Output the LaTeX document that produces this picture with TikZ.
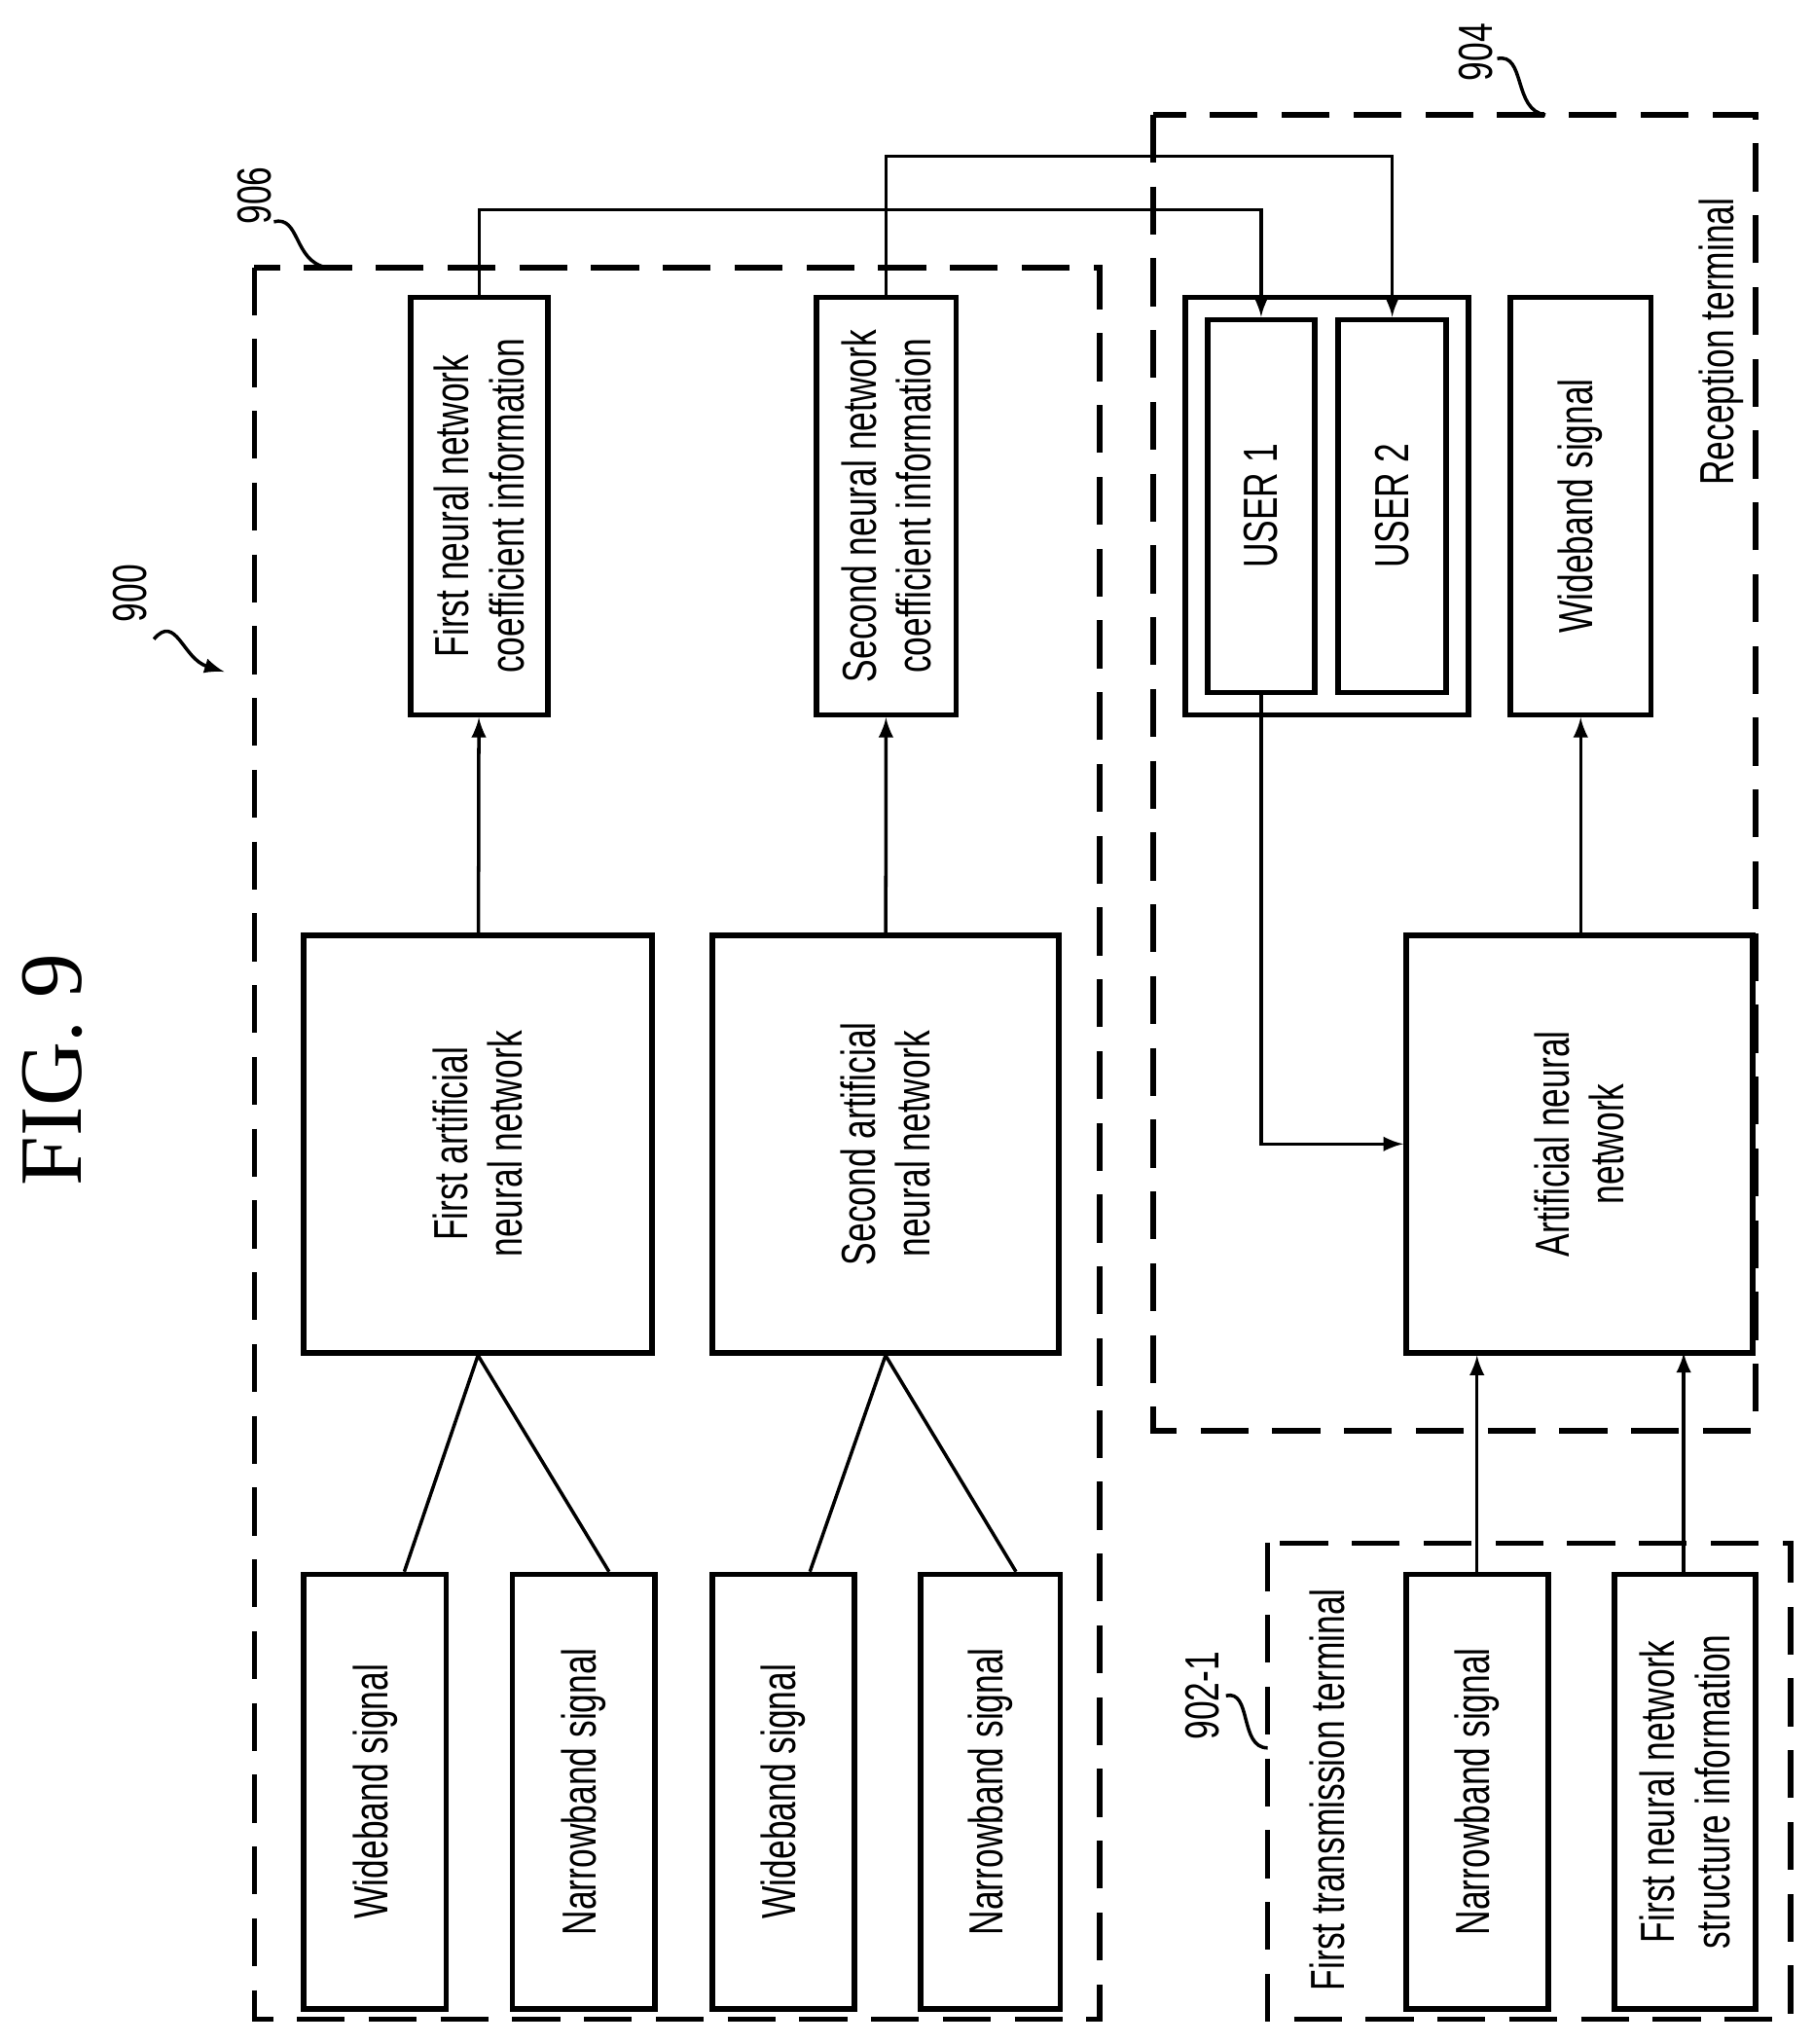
\documentclass[tikz,border=0pt]{standalone}
\usepackage{fontspec}
\setmainfont[FakeStretch=0.72]{Liberation Sans}
\newfontfamily\figfont{Liberation Serif}
\usetikzlibrary{arrows,positioning,fit}

\begin{document}
\begin{tikzpicture}[
        x=0.01341cm, y=-0.01341cm,
        box/.style={
            rectangle,
            draw,
            line width=1.6pt,
            inner sep=0pt
        },
        group/.style={
            draw,
            dashed,
            dash pattern=on 14pt off 7pt,
            line width=1.6pt
        },
        rot/.style={
            rotate=90,
            align=center,
            font=\fontsize{14}{16}\selectfont
        },
        arrow/.style={
            -latex,
            line width=1pt
        },
        wire/.style={
            line width=1pt
        }
    ]
    \useasboundingbox (0,0) rectangle (1390,1567);
    % Title
    \node[rotate=90, font=\figfont\fontsize{26}{28}\selectfont] (fig) at (40,820) {FIG. 9};
    % Reference labels
    \node[rot] (r900) at (100,455) {900};
    \draw[-latex, line width=1pt] (118,490) .. controls (135,470) and (140,505) .. (172,515);
    \node[rot] (r906) at (195,150) {906};
    \draw[wire] (210,170) .. controls (230,165) and (225,200) .. (250,205);
    \node[rot] (r904) at (1132,40) {904};
    \draw[wire] (1148,45) .. controls (1170,40) and (1160,85) .. (1185,88);
    \node[rot] (r902) at (922,1300) {902-1};
    \draw[wire] (940,1300) .. controls (960,1295) and (950,1340) .. (972,1340);
    % Training side
    \node[box, fit={(315,228) (420,548)}] (coef1) {};
    \node[rot] at (coef1) {First neural network\\coefficient information};
    \node[box, fit={(626,228) (733,548)}] (coef2) {};
    \node[rot] at (coef2) {Second neural network\\coefficient information};
    \node[box, fit={(233,717) (500,1037)}] (ann1) {};
    \node[rot] at (ann1) {First artificial\\neural network};
    \node[box, fit={(546,717) (812,1037)}] (ann2) {};
    \node[rot] at (ann2) {Second artificial\\neural network};
    \node[box, fit={(233,1207) (342,1540)}] (wb1) {};
    \node[rot] at (wb1) {Wideband signal};
    \node[box, fit={(393,1207) (502,1540)}] (nb1) {};
    \node[rot] at (nb1) {Narrowband signal};
    \node[box, fit={(546,1207) (655,1540)}] (wb2) {};
    \node[rot] at (wb2) {Wideband signal};
    \node[box, fit={(706,1207) (813,1540)}] (nb2) {};
    \node[rot] at (nb2) {Narrowband signal};
    % Training connections
    \draw[wire] (wb1.north -| 310,0) -- (ann1.south) -- (nb1.north -| 467,0);
    \draw[wire] (wb2.north -| 621,0) -- (ann2.south) -- (nb2.north -| 779,0);
    \draw[arrow] (ann1) -- (coef1);
    \draw[arrow] (ann2) -- (coef2);
    % Reception side
    \node[box, fit={(909,228) (1126,548)}] (users) {};
    \node[box, fit={(926,245) (1008,531)}] (u1) {};
    \node[rot] at (u1) {USER 1};
    \node[box, fit={(1026,245) (1109,531)}] (u2) {};
    \node[rot] at (u2) {USER 2};
    \node[box, fit={(1158,228) (1266,548)}] (wbr) {};
    \node[rot] at (wbr) {Wideband signal};
    \node[box, fit={(1078,717) (1344,1037)}] (annr) {};
    \node[rot] at (annr) {Artificial neural\\network};
    \node[rot] (rx) at (1320,262) {Reception terminal};
    \draw[arrow] (wbr.south |- annr.north) -- (wbr.south);
    \draw[arrow] (u1.south) |- (annr.west);
    \draw[arrow] (coef1.north) -- ++(0,-65) -| (u1.north);
    \draw[arrow] (coef2.north) -- ++(0,-106) -| (u2.north);
    % Transmission side
    \node[box, fit={(1078,1207) (1187,1540)}] (nbt) {};
    \node[rot] at (nbt) {Narrowband signal};
    \node[box, fit={(1238,1207) (1346,1540)}] (struct) {};
    \node[rot] at (struct) {First neural network\\structure information};
    \node[rot] (tx) at (1018,1372) {First transmission terminal};
    \draw[arrow] (nbt.north) -- (nbt.north |- annr.south);
    \draw[arrow] (struct.north -| 1291,0) -- (1291,1037);
    % Group boxes
    \draw[group] (195,205) rectangle (843,1548);
    \draw[group] (884,88) rectangle (1346,1097);
    \draw[group] (972,1183) rectangle (1373,1548);
\end{tikzpicture}
\end{document}
